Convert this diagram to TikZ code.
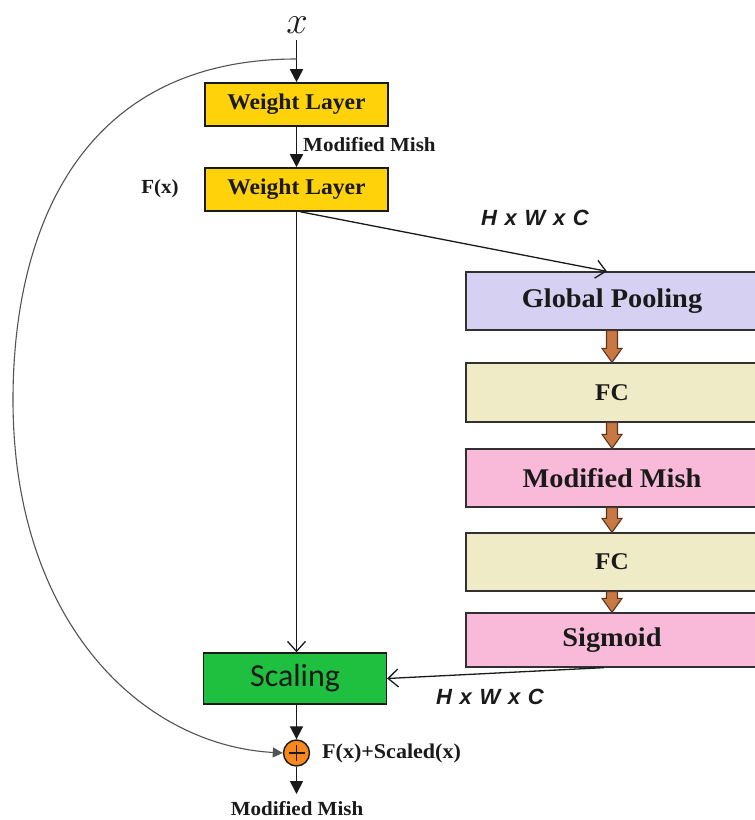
\documentclass[tikz,border=0pt]{standalone}
\usepackage{fontspec}
\usetikzlibrary{arrows.meta,calc}
\newfontfamily\blockfont[FakeStretch=1.05]{Liberation Serif}
\newfontfamily\dimfont[WordSpace=1.25]{Liberation Sans}
\newfontfamily\scalefont{Carlito}

\definecolor{wlyellow}{HTML}{FFD20A}
\definecolor{poolblue}{HTML}{D6D0F2}
\definecolor{fcbeige}{HTML}{EFEBC6}
\definecolor{actpink}{HTML}{F9B9D9}
\definecolor{scalegreen}{HTML}{1FBF3F}
\definecolor{sumorange}{HTML}{F7871F}
\definecolor{fatfill}{HTML}{C97843}
\definecolor{fatedge}{HTML}{5A3520}
\definecolor{ink}{HTML}{1A1A1A}

\tikzset{
  layer/.style={draw=ink, line width=1.6pt, fill=wlyellow, inner sep=0pt,
    minimum width=183pt, minimum height=43pt, text=ink,
    font=\blockfont\bfseries\fontsize{22.5}{22.5}\selectfont},
  seblock/.style={draw=ink!90, line width=1.3pt, inner sep=0pt,
    minimum width=292pt, minimum height=58pt, text=ink,
    font=\blockfont\bfseries\fontsize{27}{27}\selectfont},
  scalebox/.style={draw=ink, line width=1.4pt, fill=scalegreen, inner sep=0pt,
    minimum width=183pt, minimum height=51pt, text=ink,
    font=\scalefont\fontsize{32}{32}\selectfont},
  sumnode/.style={circle, draw=ink, line width=1.4pt, fill=sumorange,
    minimum size=26pt, inner sep=0pt},
  lbl/.style={text=ink, inner sep=0pt, font=\blockfont\bfseries\fontsize{20}{20}\selectfont},
  dimlbl/.style={text=ink, inner sep=0pt, font=\dimfont\bfseries\itshape\fontsize{22}{22}\selectfont},
  flow/.style={draw=ink, line width=1.8pt, -{Triangle[length=13pt,width=13pt]}},
  feed/.style={draw=ink, line width=1.3pt, -{Straight Barb[length=10pt,width=18pt,line width=1.3pt]}},
  skip/.style={draw=ink!75, line width=1.1pt, -{Triangle[length=10pt,width=10pt]}},
  fatarr/.style={draw=fatedge, line width=1.1pt, fill=fatfill, line join=miter},
}

% thick brown arrow pointing straight down from #1 to #2
\newcommand\fatarrow[2]{%
  \path[fatarr] let \p1=(#1), \p2=(#2) in
    (\x1-5.5pt,\y1) -- (\x1-5.5pt,\y2+14pt) -- (\x1-10pt,\y2+14pt) --
    (\x1,\y2) -- (\x1+10pt,\y2+14pt) -- (\x1+5.5pt,\y2+14pt) --
    (\x1+5.5pt,\y1) -- cycle;}

\begin{document}
\begin{tikzpicture}[x=1pt,y=-1pt]
  \clip (0,0) rectangle (755,820);
  \fill[white] (0,0) rectangle (755,820);

  % main path
  \node[text=ink, inner sep=0pt, font=\Huge] (xin) at (297,25) {\scalebox{1.55}{$x$}};
  \coordinate (split) at (296.5,59);
  \node[layer] (wl1) at (296.5,104.5) {Weight Layer};
  \node[layer] (wl2) at (296.5,189.5) {Weight Layer};
  \node[scalebox] (scal) at (295,678.5) {Scaling};
  \node[sumnode] (sum) at (296.5,753) {};
  \coordinate (out) at (296.5,794);

  % squeeze-and-excitation branch
  \node[seblock, fill=poolblue] (gp) at (612,301) {Global Pooling};
  \node[seblock, fill=fcbeige, minimum height=59pt,
        font=\blockfont\bfseries\fontsize{24}{24}\selectfont] (fc1) at (612,392.5) {FC};
  \node[seblock, fill=actpink] (mm) at (612,478) {Modified Mish};
  \node[seblock, fill=fcbeige,
        font=\blockfont\bfseries\fontsize{24}{24}\selectfont] (fc2) at (612,562) {FC};
  \node[seblock, fill=actpink, minimum height=54pt] (sig) at (612,640) {Sigmoid};

  % labels
  \node[lbl, anchor=west] (act1) at (303,145) {Modified Mish};
  \node[lbl] (fx) at (160,189) {F(x)};
  \node[dimlbl] (dim1) at (535,218) {H x W x C};
  \node[dimlbl] (dim2) at (490,697) {H x W x C};
  \node[lbl, anchor=west, font=\blockfont\bfseries\fontsize{21}{21}\selectfont] (sumlbl) at (322,753) {F(x)+Scaled(x)};
  \node[lbl] (act2) at (297,809) {Modified Mish};

  % plus sign inside the sum node
  \draw[ink, line width=1.4pt] ($(sum.center)+(-8,0)$) -- ($(sum.center)+(8,0)$)
                               ($(sum.center)+(0,-8)$) -- ($(sum.center)+(0,8)$);

  % connectors
  \draw[flow] (296.5,40) -- (wl1.north);
  \draw[flow] (wl1.south) -- (wl2.north);
  \draw[feed, line width=1.5pt] (wl2.south) -- (wl2.south |- scal.north);
  \draw[feed] ($(wl2.south)+(4,0)$) -- ($(gp.north)+(-5,0)$);
  \draw[feed] ($(sig.south)+(-8,0)$) -- (scal.east);
  \draw[flow] (scal.south -| sum.north) -- (sum.north);
  \draw[flow] (sum.south) -- (out);
  \draw[skip] (split) .. controls (80,59) and (13,230) .. (13,400)
                      .. controls (13,620) and (140,745) .. (sum.west);

  \fatarrow{gp.south}{fc1.north}
  \fatarrow{fc1.south}{mm.north}
  \fatarrow{mm.south}{fc2.north}
  \fatarrow{fc2.south}{sig.north}
\end{tikzpicture}
\end{document}
